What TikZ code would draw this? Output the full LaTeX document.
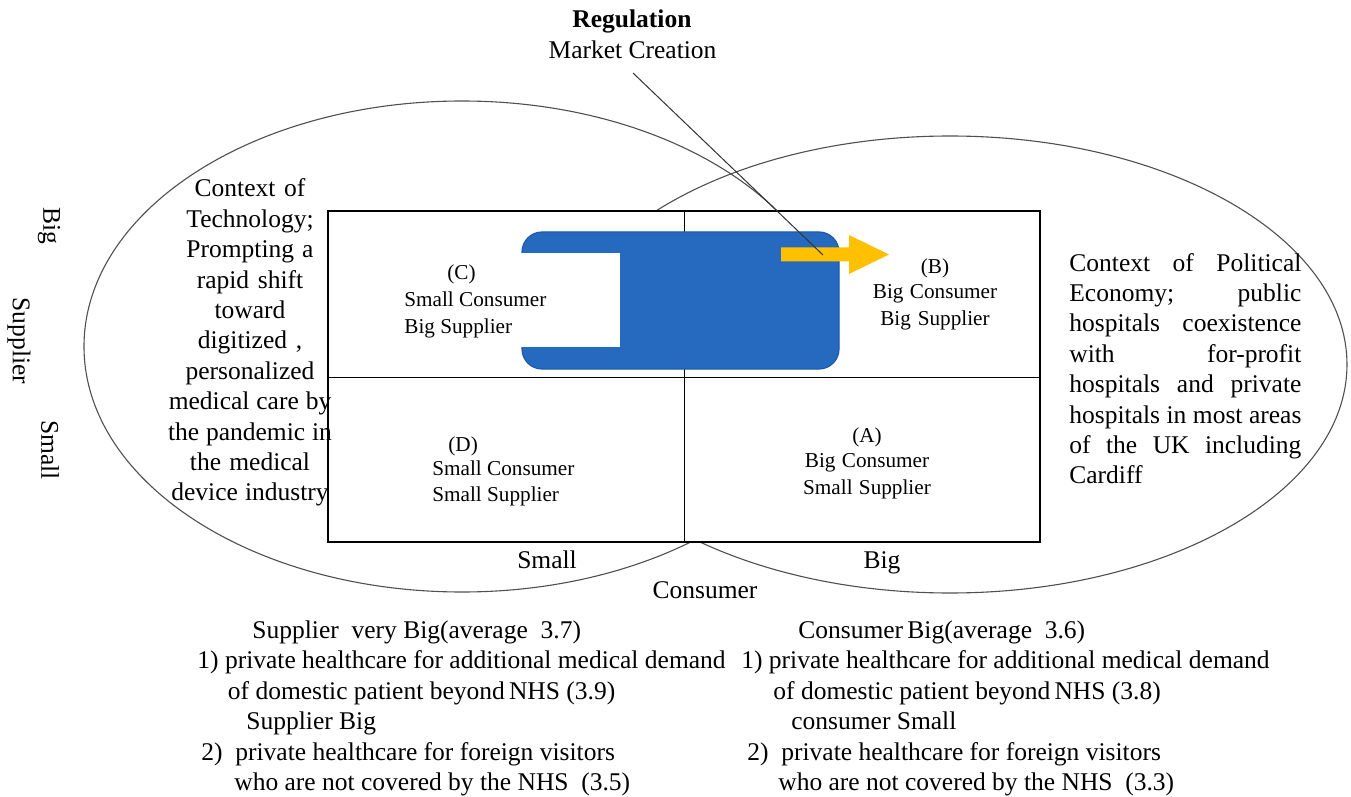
\documentclass[tikz,border=0pt]{standalone}
\usepackage{fontspec}
\setmainfont{Liberation Serif}
\definecolor{blueF}{RGB}{38,106,192}
\definecolor{blueD}{RGB}{30,90,172}
\definecolor{orangeF}{RGB}{255,192,0}
\definecolor{ellC}{RGB}{80,80,80}
\newcommand{\jline}[1]{\leavevmode\hbox to 116pt{#1}}
\begin{document}
\begin{tikzpicture}[x=0.5pt,y=-0.5pt,
  natsp/.style={execute at begin node={\spaceskip=0pt\xspaceskip=0pt\relax}},
  txt/.style={font=\fontsize{12.75pt}{15.2pt}\selectfont, inner sep=0pt, text=black, natsp},
  quad/.style={font=\fontsize{10.6pt}{13pt}\selectfont, inner sep=0pt, text=black, natsp},
  ell/.style={draw=ellC, line width=0.55pt},
  grid/.style={draw=black, line width=0.5pt},
  pointer/.style={draw=black!80, line width=0.5pt}]
\useasboundingbox (0,0) rectangle (1351,797);
\fill[white] (0,0) rectangle (1351,797);
% ellipses
\draw[ell] (462,346.5) ellipse [x radius=189pt, y radius=122.75pt];
\draw[ell] (950,364.5) ellipse [x radius=198.5pt, y radius=114.25pt];
% matrix
\filldraw[fill=white, draw=black, line width=0.75pt] (328,211) rectangle (1040,542);
\draw[grid] (684,211) -- (684,542);
\draw[grid] (328,377) -- (1040,377);
% blue shape
\filldraw[fill=blueF, draw=blueD, line width=0.6pt, rounded corners=10pt] (522,232) rectangle (839,369);
\fill[white] (519,253) rectangle (620,347);
% orange arrow
\fill[orangeF] (781,247.5) -- (849,247.5) -- (849,235) -- (889,254.5) -- (849,274) -- (849,261.5) -- (781,261.5) -- cycle;
% pointer line
\coordinate (lstart) at (633,73);
\coordinate (lend) at (823,255);
\draw[pointer] (lstart) -- (lend);
% titles
\node[txt, anchor=base] (reg) at (632,28) {\bfseries Regulation};
\node[txt, anchor=base] (mc) at (632.5,59) {Market Creation};
% contexts
\node[txt, text width=90pt, align=center, anchor=base] (ctech) at (250,197)
  {Context of\\Technology;\\Prompting a\\rapid shift\\toward\\digitized ,\\personalized\\medical care by\\the pandemic in\\the medical\\device industry};
\node[txt, text width=116pt, align=left, anchor=base west] (cpol) at (1069,271)
  {\jline{Context\hfill of\hfill Political}\\
   \jline{Economy;\hfill public}\\
   \jline{hospitals\hfill coexistence}\\
   \jline{with\hfill for-profit}\\
   \jline{hospitals\hfill and\hfill private}\\
   \jline{hospitals\hfill in\hfill most\hfill areas}\\
   \jline{of\hfill the\hfill UK\hfill including}\\
   Cardiff};
% quadrants
\node[quad, font=\fontsize{10.6pt}{13.5pt}\selectfont, text width=80pt, align=left, anchor=base west] (qc) at (404,279)
  {\hspace*{21.5pt}(C)\\Small Consumer\\Big Supplier};
\node[quad, font=\fontsize{10.6pt}{12.5pt}\selectfont, text width=80pt, align=left, anchor=base west] (qd) at (432,451)
  {\hspace*{8pt}(D)\\Small Consumer\\Small Supplier};
\node[quad, text width=80pt, align=center, anchor=base] (qb) at (935,273)
  {(B)\\Big Consumer\\Big Supplier};
\node[quad, text width=80pt, align=center, anchor=base] (qa) at (867,442)
  {(A)\\Big Consumer\\Small Supplier};
% axis labels
\node[txt, rotate=-90] (bigs) at (49,226) {Big};
\node[txt, rotate=-90] (sup) at (19,341) {Supplier};
\node[txt, rotate=-90] (smalls) at (50,450) {Small};
\node[txt, anchor=base] (smallc) at (547,568) {Small};
\node[txt, anchor=base] (bigc) at (882,568) {Big};
\node[txt, anchor=base] (cons) at (705,598) {Consumer};
% bottom blocks
\node[txt, font=\fontsize{12.75pt}{15.25pt}\selectfont, text width=290pt, align=left, anchor=base west] (lblock) at (197,638)
  {\hspace*{27.5pt}Supplier\ \ very Big(average\ \ 3.7)\\
   1) private healthcare for additional medical demand\\
   \hspace*{15.25pt}of domestic patient beyond\,NHS (3.9)\\
   \hspace*{24.5pt}Supplier Big\\
   \hspace*{2pt}2)\ \ private healthcare for foreign visitors\\
   \hspace*{18.5pt}who are not covered by the NHS\ \ (3.5)};
\node[txt, font=\fontsize{12.75pt}{15.25pt}\selectfont, text width=290pt, align=left, anchor=base west] (rblock) at (741,638)
  {\hspace*{28.5pt}Consumer\,Big(average\ \ 3.6)\\
   1) private healthcare for additional medical demand\\
   \hspace*{16pt}of domestic patient beyond\,NHS (3.8)\\
   \hspace*{25pt}consumer Small\\
   \hspace*{3pt}2)\ \ private healthcare for foreign visitors\\
   \hspace*{18.5pt}who are not covered by the NHS\ \ (3.3)};
\end{tikzpicture}
\end{document}
